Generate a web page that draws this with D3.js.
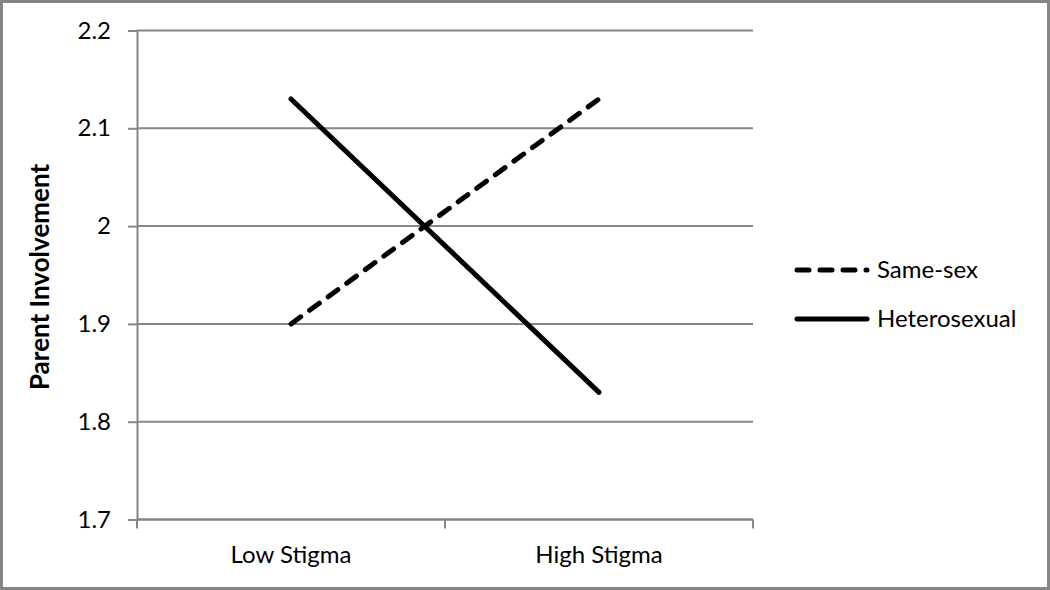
<!DOCTYPE html>
<html>
<head>
<meta charset="utf-8">
<script src="https://cdn.jsdelivr.net/npm/d3@7"></script>
<style>
  body { margin: 0; background: #fff; }
  svg { display: block; font-family: Lato, "Open Sans", sans-serif; }
</style>
</head>
<body>
<script>
const width = 1050;
const height = 590;

// data
const categories = ["Low Stigma", "High Stigma"];
const seriesNames = ["Same-sex", "Heterosexual"];
const sameSex = [1.9, 2.13];
const heterosexual = [2.13, 1.83];
const yTicks = [1.7, 1.8, 1.9, 2.0, 2.1, 2.2];

const margin = { top: 30.5, right: 297, bottom: 70.5, left: 137 };
const axisColor = "#868686";

const svg = d3.select("body").append("svg")
  .attr("width", width)
  .attr("height", height);

// outer frame
svg.append("rect")
  .attr("x", 1.5).attr("y", 1.5)
  .attr("width", width - 3).attr("height", height - 3)
  .attr("fill", "#fff")
  .attr("stroke", axisColor)
  .attr("stroke-width", 3);

const x = d3.scalePoint()
  .domain(categories)
  .range([margin.left, width - margin.right])
  .padding(0.5);

const xBand = d3.scaleBand()
  .domain(categories)
  .range([margin.left, width - margin.right]);

const y = d3.scaleLinear()
  .domain([1.7, 2.2])
  .range([height - margin.bottom, margin.top]);

// gridlines
svg.append("g")
  .selectAll("line")
  .data(yTicks)
  .join("line")
  .attr("x1", margin.left)
  .attr("x2", width - margin.right)
  .attr("y1", d => y(d))
  .attr("y2", d => y(d))
  .attr("stroke", axisColor)
  .attr("stroke-width", 2);

// y axis
const yAxis = svg.append("g")
  .attr("transform", `translate(${margin.left},0)`)
  .call(d3.axisLeft(y)
    .tickValues(yTicks)
    .tickSize(9)
    .tickPadding(17)
    .tickFormat(d => d === 2 ? "2" : d3.format(".1f")(d)));
yAxis.select(".domain").attr("stroke", axisColor).attr("stroke-width", 2);
yAxis.selectAll(".tick line").attr("stroke", axisColor).attr("stroke-width", 2);
yAxis.selectAll("text")
  .attr("font-size", 24)
  .attr("fill", "#000")
  .style("font-family", "Lato, sans-serif");

// x axis (ticks between categories)
const xAxisG = svg.append("g")
  .attr("transform", `translate(0,${y(1.7)})`);
xAxisG.append("line")
  .attr("x1", margin.left).attr("x2", width - margin.right)
  .attr("stroke", axisColor).attr("stroke-width", 2);
const edges = categories.map(c => xBand(c)).concat([xBand(categories[1]) + xBand.bandwidth()]);
xAxisG.selectAll(".edge")
  .data(edges)
  .join("line")
  .attr("class", "edge")
  .attr("x1", d => d).attr("x2", d => d)
  .attr("y1", 0).attr("y2", 9)
  .attr("stroke", axisColor).attr("stroke-width", 2);
xAxisG.selectAll(".lbl")
  .data(categories)
  .join("text")
  .attr("class", "lbl")
  .attr("x", d => x(d))
  .attr("y", 43)
  .attr("text-anchor", "middle")
  .attr("font-size", 24)
  .attr("fill", "#000")
  .text(d => d);

// y title
svg.append("text")
  .attr("transform", `translate(49,277) rotate(-90)`)
  .attr("text-anchor", "middle")
  .attr("font-size", 26)
  .attr("font-weight", "bold")
  .attr("fill", "#000")
  .text("Parent Involvement");

// lines
const series = [
  { name: seriesNames[0], values: sameSex, dash: "12,11" },
  { name: seriesNames[1], values: heterosexual, dash: null }
];

const line = d3.line()
  .x((d, i) => x(categories[i]))
  .y(d => y(d));

svg.append("g")
  .selectAll("path")
  .data(series)
  .join("path")
  .attr("d", d => line(d.values))
  .attr("fill", "none")
  .attr("stroke", "#000")
  .attr("stroke-width", 5)
  .attr("stroke-linecap", "round")
  .attr("stroke-dasharray", d => d.dash);

// legend
const legend = svg.append("g")
  .selectAll("g")
  .data(series)
  .join("g")
  .attr("transform", (d, i) => `translate(797,${270 + i * 49})`);
legend.append("line")
  .attr("x1", 0).attr("x2", 70)
  .attr("stroke", "#000")
  .attr("stroke-width", 5)
  .attr("stroke-linecap", "round")
  .attr("stroke-dasharray", d => d.dash);
legend.append("text")
  .attr("x", 80)
  .attr("y", 8)
  .attr("font-size", 24)
  .attr("fill", "#000")
  .text(d => d.name);
</script>
</body>
</html>
